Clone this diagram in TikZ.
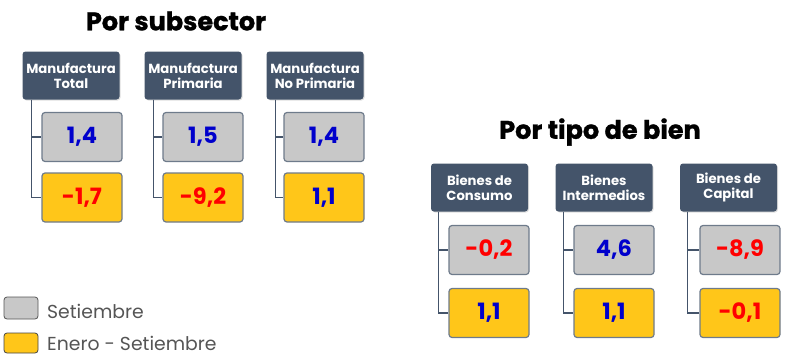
\documentclass[tikz,border=0pt]{standalone}
\usepackage{fontspec}
\setmainfont{Poppins}
\newfontfamily\ttlfont[FakeBold=1.2]{Poppins Bold}
\usetikzlibrary{shadows}
\definecolor{hdr}{HTML}{44546A}
\definecolor{bord}{HTML}{6E7B8B}
\definecolor{gfill}{HTML}{C8C8C8}
\definecolor{yfill}{HTML}{FFC619}
\definecolor{vblue}{HTML}{0000CC}
\definecolor{vred}{HTML}{FF0000}
\definecolor{legtxt}{HTML}{555555}
\tikzset{
  hdrbox/.style={fill=hdr, rounded corners=3pt, minimum width=97pt, minimum height=48pt, inner sep=0pt,
    text=white, font=\bfseries\fontsize{13.2}{14.8}\selectfont, align=center,
    drop shadow={shadow xshift=1pt, shadow yshift=-1pt, opacity=0.25}},
  valbox/.style={draw=bord, line width=1.2pt, rounded corners=3pt, minimum width=80pt, minimum height=49pt, inner sep=0pt,
    font=\bfseries\fontsize{22.5}{24}\selectfont},
  gbox/.style={valbox, fill=gfill},
  ybox/.style={valbox, fill=yfill},
  conn/.style={draw=hdr, line width=1.2pt},
  ttl/.style={font=\ttlfont\fontsize{25.5}{28}\selectfont, text=black, inner sep=0pt},
  legbox/.style={draw=legtxt, line width=0.8pt, rounded corners=3pt, minimum width=34pt, inner sep=0pt},
  legtext/.style={text=legtxt, font=\fontsize{18.8}{21}\selectfont, anchor=west, inner sep=0pt}
}
\begin{document}
\begin{tikzpicture}[x=1pt,y=-1pt]
\useasboundingbox (0,0) rectangle (787,356);
% Left group
\node[ttl] (t1) at (176,21) {Por subsector};
\node[hdrbox] (h1) at (71,75.5) {Manufactura\\Total};
\node[hdrbox] (h2) at (193,75.5) {Manufactura\\Primaria};
\node[hdrbox] (h3) at (315,75.5) {Manufactura\\No Primaria};
\node[gbox, text=vblue] (g1) at (82,137) {1,4};
\node[ybox, text=vred] (y1) at (82,197.5) {-1,7};
\node[gbox, text=vblue] (g2) at (203,137) {1,5};
\node[ybox, text=vred] (y2) at (203,197.5) {-9,2};
\node[gbox, text=vblue] (g3) at (324,137) {1,4};
\node[ybox, text=vblue] (y3) at (324,197.5) {1,1};
\foreach \i in {1,2,3}{
  \draw[conn] ([xshift=9pt]h\i.south west) |- (g\i.west);
  \draw[conn] ([xshift=9pt]h\i.south west) |- (y\i.west);
}
% Right group
\node[ttl] (t2) at (600,132) {Por tipo de bien};
\node[hdrbox] (h4) at (479.5,187.5) {Bienes de\\Consumo};
\node[hdrbox] (h5) at (604,187.5) {Bienes\\Intermedios};
\node[hdrbox] (h6) at (728.5,187.5) {Bienes de\\Capital};
\node[gbox, text=vred] (g4) at (489,250) {-0,2};
\node[ybox, text=vblue] (y4) at (489,313) {1,1};
\node[gbox, text=vblue] (g5) at (614,250) {4,6};
\node[ybox, text=vblue] (y5) at (614,313) {1,1};
\node[gbox, text=vred] (g6) at (740,250) {-8,9};
\node[ybox, text=vred] (y6) at (740,313) {-0,1};
\foreach \i in {4,5,6}{
  \draw[conn] ([xshift=8pt]h\i.south west) |- (g\i.west);
  \draw[conn] ([xshift=8pt]h\i.south west) |- (y\i.west);
}
% Legend
\node[legbox, fill=gfill, minimum height=22pt] (lg) at (21,308) {};
\node[legbox, fill=yfill, draw=legtxt!80!black, minimum height=20pt] (ly) at (21,343) {};
\node[legtext] (lgt) at (47,311.5) {Setiembre};
\node[legtext] (lyt) at (47,343.5) {Enero - Setiembre};
\end{tikzpicture}
\end{document}
